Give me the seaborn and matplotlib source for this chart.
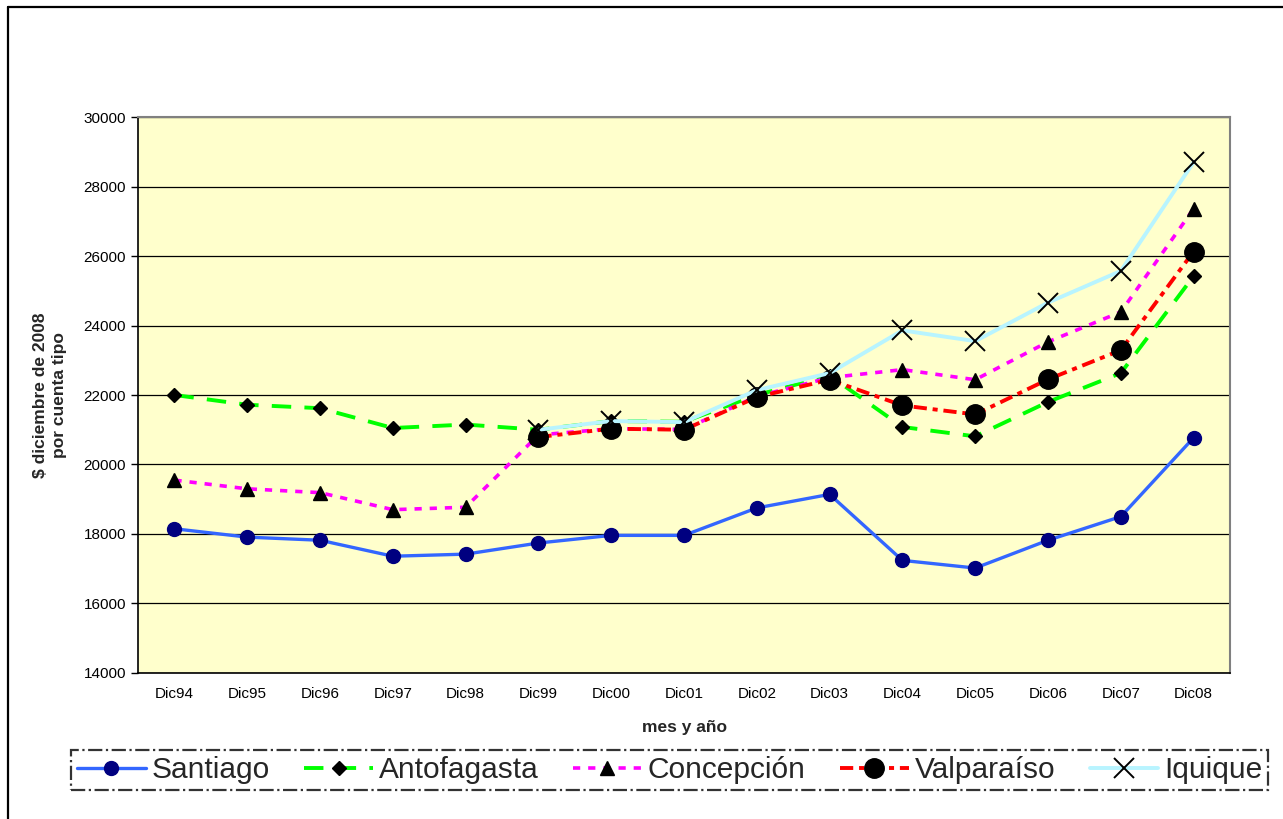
import matplotlib
matplotlib.use("Agg")
import matplotlib.pyplot as plt
import seaborn as sns
import pandas as pd
import numpy as np
from matplotlib.lines import Line2D

# -----------------------------
# Data
# -----------------------------
meses = ["Dic94", "Dic95", "Dic96", "Dic97", "Dic98", "Dic99", "Dic00", "Dic01",
         "Dic02", "Dic03", "Dic04", "Dic05", "Dic06", "Dic07", "Dic08"]

santiago = [18150, 17910, 17820, 17360, 17420, 17740, 17960, 17960,
            18750, 19140, 17240, 17020, 17820, 18500, 20770]
antofagasta = [22000, 21720, 21620, 21050, 21150, 21000, 21250, 21230,
               22000, 22560, 21080, 20810, 21800, 22630, 25420]
concepcion = [19550, 19300, 19190, 18700, 18770, 20850, 21030, 21010,
              21960, 22500, 22730, 22440, 23530, 24390, 27360]
valparaiso = [np.nan, np.nan, np.nan, np.nan, np.nan, 20790, 21030, 21000,
              21940, 22440, 21700, 21440, 22450, 23290, 26130]
iquique = [np.nan, np.nan, np.nan, np.nan, np.nan, 21000, 21250, 21220,
           22140, 22630, 23860, 23550, 24660, 25570, 28700]

series = {
    "Santiago": santiago,
    "Antofagasta": antofagasta,
    "Concepción": concepcion,
    "Valparaíso": valparaiso,
    "Iquique": iquique,
}

estilos = {
    "Santiago": dict(color="#3366FF", lw=2.4, marker="o", ms=10,
                     mfc="#000080", mec="#000080", mew=1, dashes=(None, None)),
    "Antofagasta": dict(color="#00FF00", lw=2.8, marker="D", ms=7.5,
                        mfc="black", mec="black", mew=1, dashes=(5, 3.4)),
    "Concepción": dict(color="#FF00FF", lw=2.6, marker="^", ms=9.5,
                       mfc="black", mec="black", mew=1, dashes=(2, 2.2)),
    "Valparaíso": dict(color="#FF0000", lw=2.8, marker="o", ms=14,
                       mfc="black", mec="black", mew=1, dashes=(3.4, 1.5, 1.3, 1.5)),
    "Iquique": dict(color="#B8F4FF", lw=2.8, marker="x", ms=14,
                    mfc="black", mec="black", mew=1.4, dashes=(None, None)),
}

# -----------------------------
# Setup
# -----------------------------
sns.set_theme(style="white")
plt.rcParams["font.family"] = ["Liberation Sans", "DejaVu Sans"]

fig = plt.figure(figsize=(12.83, 8.19), dpi=100)
ax = fig.add_axes([0.1076, 0.1783, 0.9587 - 0.1076, 0.8571 - 0.1783])
ax.set_facecolor("#FFFFCC")

for nombre, valores in series.items():
    df = pd.DataFrame({"mes": meses, "valor": valores}).dropna()
    st = estilos[nombre]
    sns.lineplot(data=df, x="mes", y="valor", ax=ax, sort=False, label=nombre,
                 color=st["color"], linewidth=st["lw"], marker=st["marker"],
                 markersize=st["ms"], markerfacecolor=st["mfc"],
                 markeredgecolor=st["mec"], markeredgewidth=st["mew"],
                 dashes=st["dashes"])

# -----------------------------
# Axes styling
# -----------------------------
ax.set_ylim(14000, 30000)
ax.set_yticks(range(14000, 30001, 2000))
ax.set_xlim(-0.5, len(meses) - 0.5)
ax.set_xticks(range(len(meses)))
ax.set_xticklabels(meses)
ax.set_xticks(np.arange(-0.5, len(meses), 1), minor=True)
ax.tick_params(axis="x", which="major", length=0, pad=10, labelsize=11, colors="black")
ax.tick_params(axis="x", which="minor", length=5, width=1, direction="out", colors="black")
ax.tick_params(axis="y", which="major", length=5, width=1, direction="out",
               labelsize=11, left=True, colors="black")

ax.yaxis.grid(True, color="black", linewidth=0.9)
ax.xaxis.grid(False)
ax.set_axisbelow(True)

for s in ["left", "bottom"]:
    ax.spines[s].set_color("black")
    ax.spines[s].set_linewidth(1.2)
for s in ["top", "right"]:
    ax.spines[s].set_color("#808080")
    ax.spines[s].set_linewidth(1.5)

ax.set_xlabel("mes y año", fontsize=12.5, fontweight="bold", labelpad=14)
ax.set_ylabel("$ diciembre de 2008\npor cuenta tipo", fontsize=12.5,
              fontweight="bold", labelpad=12, linespacing=1.3)

# -----------------------------
# Legend
# -----------------------------
handles, labels = ax.get_legend_handles_labels()
ax.get_legend().remove()
leg = fig.legend(handles, labels, loc="center", bbox_to_anchor=(0.522, 0.0598),
                 ncol=5, fontsize=21.5, frameon=True, fancybox=False,
                 handlelength=2.3, handletextpad=0.2, columnspacing=1.15,
                 borderpad=0.2, borderaxespad=0)
frame = leg.get_frame()
frame.set_edgecolor("black")
frame.set_linestyle("-.")
frame.set_linewidth(1.6)
frame.set_facecolor("white")

# outer chart border (left and top edges visible)
fig.add_artist(Line2D([8 / 1283, 8 / 1283], [0, 1 - 7 / 819], color="black", lw=1.6))
fig.add_artist(Line2D([8 / 1283, 1], [1 - 7 / 819, 1 - 7 / 819], color="black", lw=1.6))

fig.savefig("out.png", dpi=100)
